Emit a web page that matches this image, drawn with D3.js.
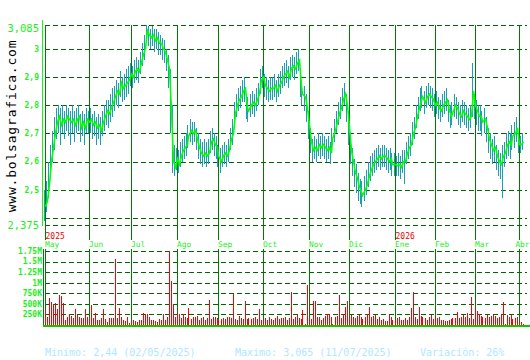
<!DOCTYPE html>
<html><head><meta charset="utf-8">
<script src="https://cdn.jsdelivr.net/npm/d3@7"></script>
<style>html,body{margin:0;padding:0;background:#fff}</style>
</head><body>
<script>
// ---- data ----
const monthLabels = ["May","Jun","Jul","Ago","Sep","Oct","Nov","Dic","Ene","Feb","Mar","Abr"];
const monthStarts = [0,22,43,66,87,109,132,152,175,195,215,237];
const yearLabels = [{label:"2025", idx:0},{label:"2026", idx:175}];
const priceTicks = [3.085,3,2.9,2.8,2.7,2.6,2.5,2.4,2.375];
const priceTickLabels = ["3,085","3","2,9","2,8","2,7","2,6","2,5","","2,375"];
const volTicks = [250,500,750,1000,1250,1500,1750];
const volTickLabels = ["250K","500K","750K","1M","1.25M","1.5M","1.75M"];

const close = [
2.44,2.46,2.52,2.60,2.65,2.70,2.74,2.76,2.73,2.75,2.74,2.76,2.75,2.74,2.75,2.73,2.75,2.76,2.72,2.74,2.72,2.75,
2.74,2.75,2.73,2.74,2.72,2.73,2.71,2.74,2.76,2.78,2.77,2.79,2.81,2.83,2.85,2.84,2.88,2.86,2.87,2.88,2.89,
2.91,2.90,2.92,2.93,2.92,2.95,2.98,3.00,3.065,3.05,3.04,3.05,3.03,3.04,3.02,3.02,3.00,2.99,2.96,2.93,2.78,2.60,2.58,
2.61,2.59,2.62,2.64,2.65,2.66,2.69,2.71,2.70,2.71,2.68,2.65,2.63,2.62,2.63,2.62,2.63,2.67,2.68,2.66,2.65,
2.62,2.60,2.62,2.63,2.62,2.64,2.68,2.70,2.77,2.80,2.82,2.83,2.85,2.86,2.79,2.78,2.80,2.81,2.80,2.82,2.84,2.89,
2.90,2.87,2.86,2.85,2.86,2.86,2.87,2.85,2.87,2.88,2.90,2.91,2.92,2.90,2.93,2.94,2.93,2.95,2.96,2.87,2.84,2.83,2.79,
2.73,2.67,2.64,2.65,2.64,2.66,2.65,2.66,2.65,2.64,2.65,2.63,2.68,2.71,2.74,2.77,2.79,2.82,2.84,2.80,
2.72,2.64,2.60,2.56,2.54,2.51,2.49,2.48,2.50,2.52,2.55,2.57,2.59,2.60,2.61,2.62,2.61,2.62,2.62,2.61,2.60,2.61,2.59,
2.59,2.585,2.59,2.58,2.60,2.60,2.63,2.65,2.66,2.70,2.72,2.76,2.79,2.82,2.83,2.81,2.83,2.84,2.83,2.82,
2.80,2.81,2.79,2.78,2.80,2.81,2.82,2.78,2.76,2.77,2.80,2.79,2.77,2.76,2.78,2.77,2.76,2.75,2.76,2.85,
2.80,2.78,2.76,2.76,2.74,2.75,2.72,2.68,2.66,2.64,2.65,2.62,2.60,2.59,2.62,2.63,2.66,2.67,2.66,2.69,2.70,2.72,
2.66,2.66,2.67];

const high = [
2.50,2.53,2.60,2.66,2.71,2.76,2.79,2.80,2.79,2.80,2.78,2.80,2.79,2.78,2.80,2.78,2.79,2.80,2.77,2.78,2.77,2.79,
2.78,2.79,2.77,2.78,2.76,2.77,2.76,2.78,2.80,2.82,2.82,2.84,2.86,2.87,2.89,2.88,2.92,2.90,2.91,2.93,2.94,
2.95,2.94,2.96,2.97,2.96,2.99,3.02,3.05,3.085,3.08,3.07,3.08,3.07,3.07,3.06,3.05,3.04,3.03,3.00,2.98,2.93,2.80,2.66,
2.65,2.64,2.67,2.68,2.69,2.70,2.73,2.75,2.74,2.74,2.72,2.70,2.68,2.67,2.68,2.67,2.68,2.71,2.72,2.70,2.69,
2.66,2.65,2.66,2.67,2.66,2.68,2.72,2.75,2.81,2.84,2.86,2.87,2.89,2.90,2.84,2.83,2.84,2.85,2.84,2.86,2.88,2.93,
2.94,2.91,2.90,2.89,2.90,2.90,2.91,2.89,2.91,2.92,2.94,2.95,2.96,2.94,2.97,2.98,2.97,2.99,3.00,2.92,2.88,2.87,2.84,
2.78,2.72,2.68,2.69,2.68,2.70,2.69,2.70,2.69,2.68,2.69,2.67,2.72,2.75,2.78,2.81,2.83,2.86,2.88,2.84,
2.78,2.69,2.65,2.61,2.59,2.56,2.54,2.53,2.55,2.57,2.60,2.62,2.63,2.64,2.65,2.66,2.65,2.66,2.66,2.65,2.64,2.65,2.63,
2.63,2.62,2.63,2.62,2.64,2.64,2.67,2.69,2.70,2.74,2.76,2.80,2.83,2.86,2.87,2.85,2.87,2.88,2.87,2.86,
2.84,2.85,2.83,2.82,2.84,2.85,2.86,2.82,2.80,2.81,2.84,2.83,2.81,2.80,2.82,2.81,2.80,2.79,2.80,2.95,
2.84,2.82,2.80,2.80,2.78,2.79,2.76,2.72,2.70,2.68,2.69,2.66,2.64,2.63,2.66,2.67,2.70,2.71,2.70,2.73,2.74,2.76,
2.70,2.69,2.70];

const low = [
2.39,2.42,2.47,2.55,2.60,2.64,2.68,2.70,2.66,2.70,2.68,2.71,2.69,2.66,2.70,2.67,2.70,2.71,2.67,2.69,2.66,2.70,
2.70,2.70,2.68,2.69,2.66,2.68,2.66,2.69,2.71,2.73,2.72,2.74,2.76,2.78,2.80,2.79,2.83,2.81,2.82,2.83,2.84,
2.87,2.86,2.88,2.89,2.88,2.91,2.94,2.96,3.02,3.01,3.00,3.01,2.99,3.00,2.98,2.98,2.96,2.95,2.92,2.86,2.70,2.56,2.55,
2.57,2.56,2.58,2.60,2.61,2.62,2.65,2.67,2.66,2.67,2.64,2.61,2.59,2.58,2.59,2.58,2.59,2.63,2.64,2.62,2.61,
2.58,2.56,2.58,2.59,2.58,2.60,2.64,2.66,2.72,2.76,2.78,2.79,2.81,2.81,2.75,2.74,2.76,2.77,2.76,2.78,2.80,2.84,
2.86,2.83,2.82,2.81,2.82,2.82,2.83,2.81,2.83,2.84,2.86,2.87,2.88,2.86,2.89,2.90,2.89,2.91,2.92,2.83,2.80,2.78,2.74,
2.68,2.63,2.60,2.61,2.60,2.62,2.61,2.62,2.61,2.60,2.61,2.59,2.64,2.67,2.70,2.73,2.75,2.78,2.80,2.74,
2.66,2.59,2.55,2.51,2.49,2.46,2.45,2.44,2.46,2.48,2.51,2.53,2.55,2.56,2.57,2.58,2.57,2.58,2.58,2.57,2.56,2.57,2.55,
2.55,2.55,2.55,2.54,2.56,2.52,2.59,2.61,2.62,2.66,2.68,2.72,2.75,2.78,2.79,2.77,2.79,2.80,2.79,2.78,
2.76,2.77,2.75,2.74,2.76,2.77,2.78,2.74,2.72,2.73,2.76,2.75,2.73,2.72,2.74,2.73,2.72,2.71,2.72,2.76,
2.75,2.73,2.71,2.71,2.69,2.70,2.67,2.63,2.61,2.59,2.60,2.57,2.55,2.54,2.47,2.58,2.61,2.62,2.61,2.64,2.65,2.67,
2.63,2.63,2.64];

// volume in thousands
const volume = [
350,200,650,550,480,530,380,700,680,520,130,200,250,220,170,370,240,180,170,170,370,200,
170,470,170,280,120,130,160,370,150,80,170,160,170,1550,170,400,180,130,100,200,50,
100,130,90,60,130,130,280,250,250,200,110,110,100,80,150,130,250,130,200,1750,1050,500,190,280,260,
170,250,200,160,
400,150,180,200,220,110,170,190,130,160,
600,140,180,190,170,120,150,160,140,200,
180,160,740,150,130,220,170,150,560,140,
160,150,170,180,150,380,120,140,160,130,
200,150,120,170,220,140,160,170,200,130,
170,780,140,200,230,170,150,360,20,940,
160,150,560,560,200,180,130,170,210,250,
250,180,20,200,220,710,160,250,430,560,
200,230,200,170,210,240,180,140,200,260,
430,200,210,240,150,200,130,150,90,90,
230,180,130,120,160,190,110,120,160,110,
190,400,780,200,150,430,210,200,160,110,
190,230,140,210,170,200,130,120,100,100,
130,150,160,160,310,170,200,240,190,280,
160,670,150,430,320,250,220,200,170,240,
190,210,240,210,170,200,240,540,20,230,
180,240,150,170,200,
80,80,20];

const footer = ["Minimo: 2,44 (02/05/2025)","Maximo: 3,065 (11/07/2025)","Variación: 26%"];

// ---- drawing ----
const W = 530, H = 360;
const svg = d3.select("body").append("svg").attr("width", W).attr("height", H)
  .style("display","block").style("background","#fff");

const N = close.length;
const x = d3.scaleLinear().domain([0, 240]).range([43.5, 523.5]);
const y = d3.scaleLinear().domain([2.375, 3.085]).range([225, 25]);
const yv = d3.scaleLinear().domain([0, 1750]).range([325, 251]);

const gridCol = "#006400", monthCol = "#007a00", lab = "#22ee22";
const mono = "'DejaVu Sans Mono', monospace";
const crisp = v => Math.round(v) + 0.5;
const px = v => Math.round(v);

// watermark
svg.append("text").attr("transform","translate(16,126) rotate(-90)")
  .attr("text-anchor","middle").attr("font-family", mono).attr("font-size", 13)
  .attr("letter-spacing", 0.8).attr("fill","#000").text("www.bolsagrafica.com");

// price grid
svg.append("g").attr("shape-rendering","crispEdges").selectAll("line").data(priceTicks).join("line")
  .attr("x1", 45).attr("x2", 527).attr("y1", d => crisp(y(d))).attr("y2", d => crisp(y(d)))
  .attr("stroke", gridCol).attr("stroke-width", 1).attr("stroke-dasharray", "5,3");

// volume grid
svg.append("g").attr("shape-rendering","crispEdges").selectAll("line").data(volTicks).join("line")
  .attr("x1", 45).attr("x2", 527).attr("y1", d => crisp(yv(d))).attr("y2", d => crisp(yv(d)))
  .attr("stroke", gridCol).attr("stroke-width", 1).attr("stroke-dasharray", "5,3");

// month lines
const mg = svg.append("g").attr("shape-rendering","crispEdges");
mg.selectAll("line.a").data(monthStarts).join("line").attr("class","a")
  .attr("x1", d => px(x(d))+1.5).attr("x2", d => px(x(d))+1.5).attr("y1", 25).attr("y2", 240)
  .attr("stroke", monthCol).attr("stroke-width", 1);
mg.selectAll("line.b").data(monthStarts).join("line").attr("class","b")
  .attr("x1", d => px(x(d))+1.5).attr("x2", d => px(x(d))+1.5).attr("y1", 249).attr("y2", 326)
  .attr("stroke", monthCol).attr("stroke-width", 1);

// left axis lines
svg.append("line").attr("x1",42.5).attr("x2",42.5).attr("y1",20).attr("y2",226)
  .attr("stroke","#22ee22").attr("stroke-width",1).attr("shape-rendering","crispEdges");
svg.append("line").attr("x1",43.5).attr("x2",43.5).attr("y1",249).attr("y2",326)
  .attr("stroke",monthCol).attr("stroke-width",1).attr("shape-rendering","crispEdges");

// price tick labels
svg.append("g").selectAll("text").data(priceTicks).join("text")
  .attr("x", 39).attr("y", (d,i) => (i===0 ? y(d)+3 : y(d)))
  .attr("dy", "0.35em").attr("text-anchor","end").attr("font-family", mono)
  .attr("font-size", (d,i) => (i===0 || i===priceTicks.length-1) ? 10.5 : 8)
  .attr("font-weight", (d,i) => (i===0 || i===priceTicks.length-1) ? "normal" : "bold")
  .attr("fill", lab).text((d,i) => priceTickLabels[i]);

// volume tick labels
svg.append("g").selectAll("text").data(volTicks).join("text")
  .attr("x", 42).attr("y", d => yv(d)).attr("dy","0.35em").attr("text-anchor","end")
  .attr("font-family", mono).attr("font-size", 8).attr("font-weight","bold")
  .attr("fill", lab).text((d,i) => volTickLabels[i]);

// month labels
svg.append("g").selectAll("text").data(monthStarts).join("text")
  .attr("x", d => px(x(d))+1).attr("y", 247).attr("font-family", mono).attr("font-size", 7.8)
  .attr("fill", lab).text((d,i) => monthLabels[i])
  .each(function() {
    const len = this.getComputedTextLength();
    const x0 = +this.getAttribute("x");
    if (x0 + len > 529.5) this.setAttribute("x", 529.5 - len);
  });
svg.append("g").selectAll("text").data(yearLabels).join("text")
  .attr("x", d => px(x(d.idx))+1.5).attr("y", 238.5).attr("font-family", mono).attr("font-size", 8)
  .attr("fill", "#ee0000").text(d => d.label);

// high-low bars
svg.append("g").attr("shape-rendering","crispEdges").selectAll("line").data(d3.range(N)).join("line")
  .attr("x1", i => px(x(i))+0.5).attr("x2", i => px(x(i))+0.5)
  .attr("y1", i => Math.round(y(high[i]))).attr("y2", i => Math.round(y(low[i])))
  .attr("stroke", "#1aa0b4").attr("stroke-width", 1);

// close line
svg.append("path").datum(d3.range(N))
  .attr("d", d3.line().x(i => px(x(i))+1.5).y(i => y(close[i])))
  .attr("fill","none").attr("stroke","#00ff00").attr("stroke-width", 1.6);

// volume bars
svg.append("g").attr("shape-rendering","crispEdges").selectAll("rect").data(d3.range(N)).join("rect")
  .attr("x", i => px(x(i))+1).attr("width", 1)
  .attr("y", i => Math.round(yv(volume[i]))).attr("height", i => 325 - Math.round(yv(volume[i])))
  .attr("fill", "#ff0000");

// volume baseline
svg.append("line").attr("x1",43).attr("x2",530).attr("y1",326).attr("y2",326)
  .attr("stroke","#00cc00").attr("stroke-width",2).attr("shape-rendering","crispEdges");

// footer
const fx = [45, 235, 420];
svg.append("g").selectAll("text").data(footer).join("text")
  .attr("x", (d,i) => fx[i]).attr("y", 356).attr("font-family", mono).attr("font-size", 10)
  .attr("fill", "#aee8ff").text(d => d);
</script>
</body></html>
